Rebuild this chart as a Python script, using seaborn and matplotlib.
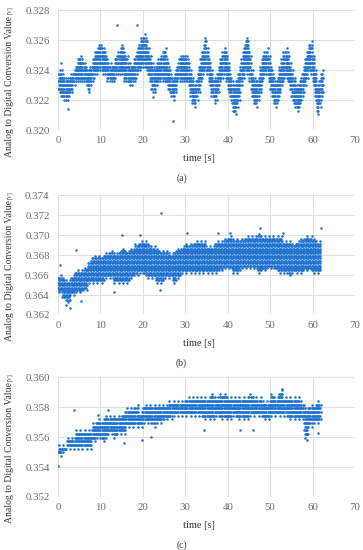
#!/usr/bin/env python3
"""ADC value vs time, three stacked scatter panels (a), (b), (c)."""

import math

import matplotlib.pyplot as plt
import pandas as pd
import seaborn as sns

OUT = "out.png"

# panel (a): envelope per 0.5 s bin (low / high reading), 12-bit quantised
A_BIN = 0.5
A_LO = [
    0.3225, 0.3222, 0.3220, 0.3218, 0.3220, 0.3222, 0.3225, 0.3228, 0.3230, 0.3232,
    0.3232, 0.3232, 0.3230, 0.3228, 0.3225, 0.3228, 0.3232, 0.3235, 0.3236, 0.3238,
    0.3238, 0.3236, 0.3235, 0.3232, 0.3230, 0.3230, 0.3232, 0.3235, 0.3236, 0.3236,
    0.3235, 0.3232, 0.3230, 0.3228, 0.3228, 0.3230, 0.3232, 0.3235, 0.3238, 0.3240,
    0.3240, 0.3238, 0.3235, 0.3230, 0.3225, 0.3225, 0.3228, 0.3230, 0.3232, 0.3232,
    0.3230, 0.3228, 0.3225, 0.3222, 0.3218, 0.3225, 0.3230, 0.3232, 0.3232, 0.3232,
    0.3232, 0.3228, 0.3222, 0.3216, 0.3214, 0.3218, 0.3225, 0.3232, 0.3236, 0.3238,
    0.3235, 0.3228, 0.3222, 0.3220, 0.3218, 0.3225, 0.3230, 0.3234, 0.3235, 0.3232,
    0.3225, 0.3218, 0.3212, 0.3209, 0.3214, 0.3220, 0.3228, 0.3234, 0.3238, 0.3236,
    0.3230, 0.3222, 0.3216, 0.3214, 0.3218, 0.3225, 0.3232, 0.3236, 0.3236, 0.3232,
    0.3225, 0.3218, 0.3214, 0.3216, 0.3222, 0.3228, 0.3232, 0.3234, 0.3232, 0.3226,
    0.3220, 0.3215, 0.3213, 0.3211, 0.3216, 0.3222, 0.3228, 0.3234, 0.3238, 0.3236,
    0.3228, 0.3218, 0.3210, 0.3214, 0.3222,
]
A_HI = [
    0.3240, 0.3240, 0.3238, 0.3236, 0.3235, 0.3236, 0.3238, 0.3240, 0.3243, 0.3248,
    0.3250, 0.3248, 0.3245, 0.3243, 0.3242, 0.3244, 0.3248, 0.3252, 0.3255, 0.3258,
    0.3258, 0.3255, 0.3252, 0.3248, 0.3245, 0.3243, 0.3245, 0.3250, 0.3252, 0.3255,
    0.3258, 0.3254, 0.3250, 0.3245, 0.3243, 0.3245, 0.3250, 0.3255, 0.3258, 0.3262,
    0.3265, 0.3263, 0.3256, 0.3250, 0.3245, 0.3243, 0.3245, 0.3248, 0.3250, 0.3252,
    0.3256, 0.3248, 0.3243, 0.3238, 0.3235, 0.3240, 0.3246, 0.3250, 0.3250, 0.3250,
    0.3250, 0.3248, 0.3240, 0.3236, 0.3232, 0.3236, 0.3243, 0.3250, 0.3256, 0.3262,
    0.3256, 0.3248, 0.3242, 0.3236, 0.3236, 0.3242, 0.3248, 0.3252, 0.3255, 0.3252,
    0.3245, 0.3238, 0.3234, 0.3232, 0.3235, 0.3240, 0.3248, 0.3255, 0.3260, 0.3262,
    0.3252, 0.3242, 0.3236, 0.3233, 0.3236, 0.3243, 0.3250, 0.3254, 0.3255, 0.3250,
    0.3244, 0.3238, 0.3233, 0.3236, 0.3243, 0.3248, 0.3252, 0.3255, 0.3252, 0.3246,
    0.3240, 0.3236, 0.3232, 0.3230, 0.3236, 0.3242, 0.3248, 0.3254, 0.3258, 0.3260,
    0.3250, 0.3240, 0.3232, 0.3236, 0.3242,
]
A_OUT_T = [0.8, 2.3, 14.0, 18.7, 22.3, 27.0, 37.0]
A_OUT_V = [0.3245, 0.3214, 0.3270, 0.3270, 0.3222, 0.3206, 0.3218]

# panel (b): envelope per 1 s bin
B_BIN = 1.0
B_LO = [
    0.3642, 0.3634, 0.3632, 0.3638, 0.3642, 0.3642, 0.3645, 0.3650, 0.3652, 0.3650,
    0.3652, 0.3656, 0.3655, 0.3650, 0.3652, 0.3652, 0.3650, 0.3655, 0.3658, 0.3660,
    0.3658, 0.3656, 0.3655, 0.3652, 0.3650, 0.3655, 0.3656, 0.3652, 0.3655, 0.3660,
    0.3660, 0.3660, 0.3662, 0.3660, 0.3662, 0.3660, 0.3660, 0.3662, 0.3664, 0.3665,
    0.3665, 0.3660, 0.3662, 0.3665, 0.3665, 0.3666, 0.3665, 0.3662, 0.3664, 0.3665,
    0.3666, 0.3664, 0.3662, 0.3660, 0.3658, 0.3660, 0.3660, 0.3662, 0.3663, 0.3664,
    0.3662, 0.3660,
]
B_HI = [
    0.3660, 0.3658, 0.3656, 0.3662, 0.3666, 0.3666, 0.3668, 0.3675, 0.3680, 0.3680,
    0.3680, 0.3684, 0.3685, 0.3684, 0.3686, 0.3688, 0.3686, 0.3688, 0.3692, 0.3695,
    0.3694, 0.3692, 0.3690, 0.3688, 0.3686, 0.3686, 0.3684, 0.3686, 0.3688, 0.3690,
    0.3692, 0.3692, 0.3694, 0.3695, 0.3695, 0.3690, 0.3690, 0.3695, 0.3696, 0.3698,
    0.3700, 0.3698, 0.3698, 0.3698, 0.3700, 0.3700, 0.3700, 0.3702, 0.3700, 0.3700,
    0.3700, 0.3700, 0.3700, 0.3696, 0.3694, 0.3692, 0.3695, 0.3698, 0.3699, 0.3700,
    0.3698, 0.3696,
]
B_OUT_T = [0.5, 1.9, 2.8, 4.3, 5.5, 13.3, 15.1, 19.3, 24.0, 24.3, 30.5, 37.6, 40.5, 47.7, 53.0, 62.0]
B_OUT_V = [0.3670, 0.3630, 0.3627, 0.3685, 0.3634, 0.3643, 0.3700, 0.3700, 0.3645, 0.3722,
           0.3702, 0.3702, 0.3702, 0.3707, 0.3702, 0.3707]

# panel (c): envelope per 1 s bin
C_BIN = 1.0
C_LO = [
    0.3546, 0.3548, 0.3550, 0.3550, 0.3551, 0.3552, 0.3552, 0.3552, 0.3556, 0.3558,
    0.3556, 0.3558, 0.3560, 0.3558, 0.3560, 0.3562, 0.3565, 0.3566, 0.3566, 0.3565,
    0.3568, 0.3568, 0.3566, 0.3568, 0.3568, 0.3570, 0.3570, 0.3572, 0.3572, 0.3572,
    0.3572, 0.3572, 0.3572, 0.3572, 0.3570, 0.3570, 0.3570, 0.3572, 0.3570, 0.3570,
    0.3570, 0.3572, 0.3570, 0.3570, 0.3570, 0.3572, 0.3572, 0.3572, 0.3570, 0.3570,
    0.3572, 0.3572, 0.3572, 0.3572, 0.3570, 0.3570, 0.3570, 0.3570, 0.3558, 0.3566,
    0.3568, 0.3568,
]
C_HI = [
    0.3555, 0.3556, 0.3560, 0.3562, 0.3565, 0.3566, 0.3566, 0.3566, 0.3570, 0.3572,
    0.3572, 0.3575, 0.3575, 0.3575, 0.3575, 0.3578, 0.3580, 0.3580, 0.3582, 0.3578,
    0.3582, 0.3582, 0.3582, 0.3582, 0.3583, 0.3583, 0.3585, 0.3585, 0.3585, 0.3585,
    0.3587, 0.3587, 0.3587, 0.3588, 0.3587, 0.3588, 0.3590, 0.3587, 0.3590, 0.3590,
    0.3587, 0.3587, 0.3587, 0.3587, 0.3588, 0.3590, 0.3587, 0.3587, 0.3585, 0.3585,
    0.3590, 0.3588, 0.3592, 0.3587, 0.3587, 0.3587, 0.3587, 0.3585, 0.3580, 0.3582,
    0.3582, 0.3585,
]
C_OUT_T = [0.0, 3.8, 9.3, 11.7, 15.5, 19.8, 22.0, 34.5, 43.0, 46.0, 58.7, 61.3, 52.8]
C_OUT_V = [0.3541, 0.3578, 0.3575, 0.3578, 0.3556, 0.3558, 0.3560, 0.3565, 0.3565, 0.3565,
           0.3558, 0.3563, 0.3592]

PANELS = [
    # lo, hi, bin width, adc step, pts per bin, outliers, ylim, yticks, caption
    (A_LO, A_HI, A_BIN, 1 / 4096, 2, A_OUT_T, A_OUT_V, (0.320, 0.328),
     [0.320, 0.322, 0.324, 0.326, 0.328], "(a)"),
    (B_LO, B_HI, B_BIN, 1 / 4096, 3, B_OUT_T, B_OUT_V, (0.362, 0.374),
     [0.362, 0.364, 0.366, 0.368, 0.370, 0.372, 0.374], "(b)"),
    (C_LO, C_HI, C_BIN, 1 / 4096, 4, C_OUT_T, C_OUT_V, (0.352, 0.360),
     [0.352, 0.354, 0.356, 0.358, 0.360], "(c)"),
]

BLUE = "#1a6fcf"
GRID = "#dedede"
TICK_C = "#6b6b6b"
TEXT_C = "#333333"
YTITLE = "Analog to Digital Conversion Value"


def band_points(lo, hi, width, step, n):
    """Spread the readings of each bin over the quantised levels it covers;
    the outermost levels of a bin get a single reading."""
    t, v = [], []
    for i, (a, b) in enumerate(zip(lo, hi)):
        t0 = i * width
        k0 = math.ceil(a / step - 1e-9)
        k1 = math.floor(b / step + 1e-9)
        for k in range(k0, k1 + 1):
            off = 0.5 * (k % 2)
            if k in (k0, k1) and k1 > k0:
                t.append(t0 + (0.25 + off) * width)
                v.append(k * step)
                continue
            for j in range(n):
                t.append(t0 + (j + off) * width / n)
                v.append(k * step)
    return t, v


def main() -> None:
    sns.set_theme(style="whitegrid")
    plt.rcParams["font.family"] = ["Liberation Serif", "DejaVu Serif"]

    fig = plt.figure(figsize=(3.63, 5.5), dpi=100)
    bottoms = [0.7636, 0.4273, 0.0964]

    for (lo, hi, w, step, n, ot, ov, ylim, yticks, cap), b in zip(PANELS, bottoms):
        ax = fig.add_axes([0.160, b, 0.818, 0.218])
        t, v = band_points(lo, hi, w, step, n)
        df = pd.DataFrame({"time": t + ot, "adc": v + ov})
        sns.scatterplot(data=df, x="time", y="adc", ax=ax, color=BLUE, s=3.3,
                        marker="o", linewidth=0, legend=False)

        ax.set_xlim(0, 70)
        ax.set_ylim(*ylim)
        ax.set_xticks(range(0, 71, 10))
        ax.set_yticks(yticks)
        ax.set_yticklabels([f"{y:.3f}" for y in yticks])
        ax.tick_params(axis="both", length=0, labelsize=7.8, labelcolor=TICK_C)
        ax.tick_params(axis="x", pad=4)
        ax.tick_params(axis="y", pad=6)
        ax.grid(True, color=GRID, linewidth=0.7)
        for sp in ax.spines.values():
            sp.set_visible(False)

        ax.set_xlabel("time [s]", fontsize=7.5, color=TEXT_C)
        ax.xaxis.set_label_coords(0.475, -0.2)
        ax.set_ylabel("")
        # axis title drawn as text so the small unit mark can sit above it
        ax.text(-0.162, 0.955, YTITLE, transform=ax.transAxes, rotation=90,
                fontsize=7.0, color=TEXT_C, ha="center", va="top")
        ax.text(-0.162, 0.965, "[V]", transform=ax.transAxes, rotation=90,
                fontsize=4, color=TEXT_C, ha="center", va="bottom")

        fig.text(0.5, b - 48 / 550, cap, ha="center", va="center", fontsize=7,
                 color=TEXT_C)

    fig.savefig(OUT, dpi=100)
    plt.close(fig)


if __name__ == "__main__":
    main()
